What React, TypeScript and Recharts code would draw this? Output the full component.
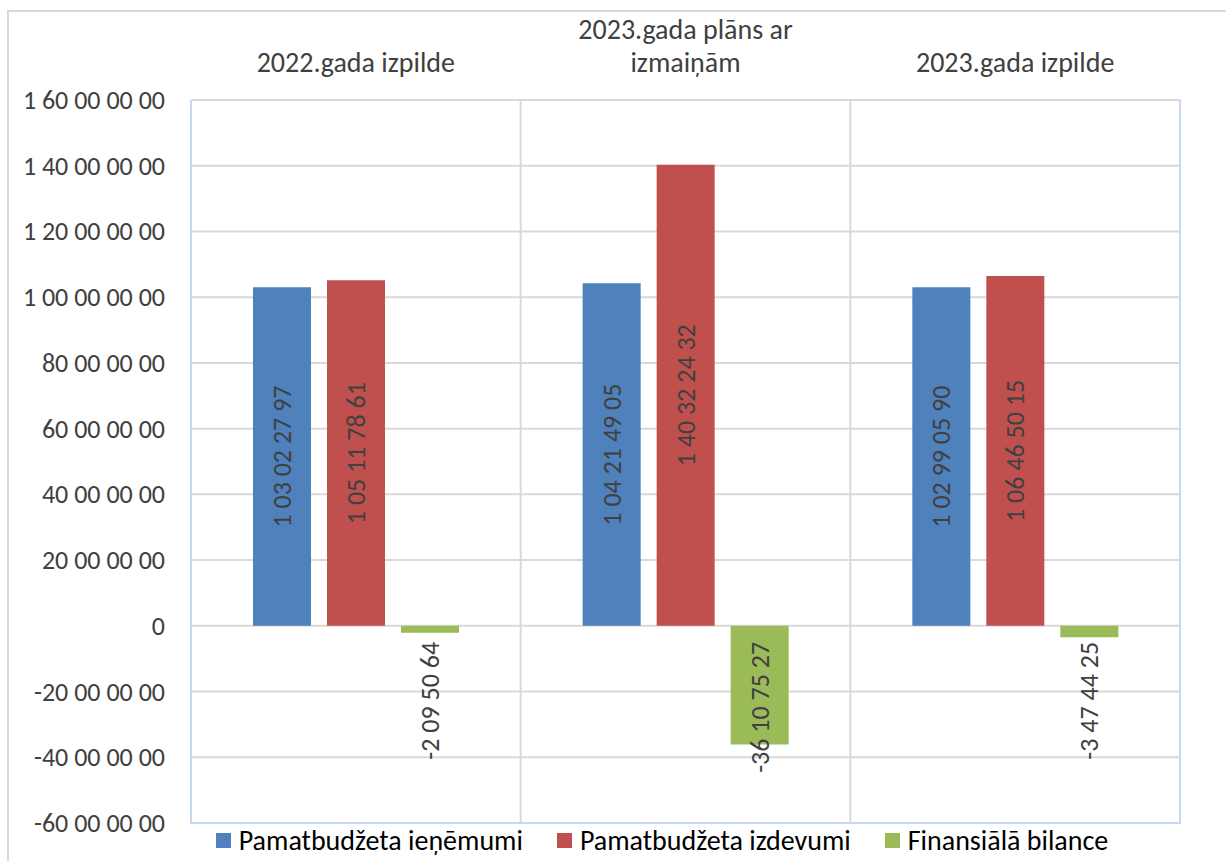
import { BarChart, Bar, XAxis, YAxis, CartesianGrid, LabelList, Legend, ReferenceArea } from 'recharts';

const CATEGORIES = ['2022.gada izpilde', '2023.gada plāns ar izmaiņām', '2023.gada izpilde'];
const IENEMUMI = [103022797, 104214905, 102990590];
const IZDEVUMI = [105117861, 140322432, 106465015];
const BILANCE = [-2095064, -36107527, -3474425];
const Y_TICKS = [-60000000, -40000000, -20000000, 0, 20000000, 40000000, 60000000, 80000000, 100000000, 120000000, 140000000, 160000000];

const SERIES = [
  { key: 'ienemumi', name: 'Pamatbudžeta ieņēmumi', color: '#4f81bd' },
  { key: 'izdevumi', name: 'Pamatbudžeta izdevumi', color: '#c0504d' },
  { key: 'bilance', name: 'Finansiālā bilance', color: '#9bbb59' },
];

const data = CATEGORIES.map((c, i) => ({
  name: c,
  ienemumi: IENEMUMI[i],
  izdevumi: IZDEVUMI[i],
  bilance: BILANCE[i],
}));

const FONT = 'Carlito, Lato, "Open Sans", sans-serif';
const TXT = '#404040';
const FS = 26;

// digits grouped in pairs from the right, like the source sheet
function fmt(v: number) {
  const neg = v < 0;
  let s = Math.abs(Math.round(v)).toString();
  const parts: string[] = [];
  while (s.length > 2) {
    parts.unshift(s.slice(-2));
    s = s.slice(0, -2);
  }
  parts.unshift(s);
  return (neg ? '-' : '') + parts.join(' ');
}

function wrap(label: string, max = 20) {
  if (label.length <= max) return [label];
  const cut = label.lastIndexOf(' ', max);
  return [label.slice(0, cut), label.slice(cut + 1)];
}

function CatTick({ x, payload }: any) {
  const lines = wrap(payload.value);
  const last = 72;
  return (
    <text x={x} textAnchor="middle" fill={TXT} fontSize={28} fontFamily={FONT}>
      {lines.map((l, i) => (
        <tspan key={i} x={x} y={last - (lines.length - 1 - i) * 33}>{l}</tspan>
      ))}
    </text>
  );
}

function YTick({ x, y, payload }: any) {
  return (
    <text x={x} y={y} textAnchor="end" dominantBaseline="central" fill={TXT} fontSize={FS} fontFamily={FONT}>
      {fmt(payload.value)}
    </text>
  );
}

function BarLabel(props: any) {
  const { x, y, width, height, value } = props;
  const cx = x + width / 2;
  const top = Math.min(y, y + height);
  const bottom = Math.max(y, y + height);
  if (value < 0) {
    const ay = top + 16;
    return (
      <text x={cx} y={ay} transform={`rotate(-90 ${cx} ${ay})`} textAnchor="end" dominantBaseline="central"
        fill={TXT} fontSize={FS} fontFamily={FONT}>{fmt(value)}</text>
    );
  }
  const cy = (top + bottom) / 2;
  return (
    <text x={cx} y={cy} transform={`rotate(-90 ${cx} ${cy})`} textAnchor="middle" dominantBaseline="central"
      fill={TXT} fontSize={FS} fontFamily={FONT}>{fmt(value)}</text>
  );
}

function LegendContent() {
  return (
    <div style={{ display: 'flex', justifyContent: 'center', gap: 34, fontFamily: FONT, fontSize: 28, color: '#000', marginLeft: 98 }}>
      {SERIES.map((s) => (
        <div key={s.key} style={{ display: 'flex', alignItems: 'center' }}>
          <span style={{ width: 15, height: 15, background: s.color, display: 'inline-block', marginRight: 8 }} />
          <span>{s.name}</span>
        </div>
      ))}
    </div>
  );
}

function PlotBorder({ x, y, width, height }: any) {
  return (
    <path d={`M${x},${y} L${x},${y + height} L${x + width},${y + height} L${x + width},${y}`}
      fill="none" stroke="#c6d9f1" strokeWidth={2} />
  );
}

export default function App() {
  return (
    <div style={{ position: 'absolute', left: 0, top: 0, width: 1226, height: 861, overflow: 'hidden', background: '#fff' }}>
      <div style={{ position: 'absolute', left: 7, top: 10, width: 1240, height: 870, border: '2px solid #d9d9d9' }} />
      <BarChart width={1226} height={861} data={data} margin={{ top: 0, right: 46, bottom: 38, left: 0 }}
        barGap={16} barSize={58}>
        <CartesianGrid stroke="#d9d9d9" strokeWidth={2}
          verticalCoordinatesGenerator={({ offset }: any) => [1, 2].map((i) => offset.left + (i * offset.width) / 3)} />
        <XAxis dataKey="name" orientation="top" height={100} axisLine={false} tickLine={false} tick={<CatTick />} interval={0} />
        <YAxis domain={[-60000000, 160000000]} ticks={Y_TICKS} width={191} axisLine={false} tickLine={false}
          tickMargin={20} tick={<YTick />} interval={0} />
        <ReferenceArea y1={-60000000} y2={160000000} fill="none" stroke="none" shape={<PlotBorder />} />
        {SERIES.map((s) => (
          <Bar key={s.key} dataKey={s.key} name={s.name} fill={s.color} isAnimationActive={false}>
            <LabelList dataKey={s.key} content={<BarLabel />} />
          </Bar>
        ))}
        <Legend verticalAlign="middle" content={<LegendContent />}
          wrapperStyle={{ top: 823, left: 0, width: 1226 }} />
      </BarChart>
    </div>
  );
}
